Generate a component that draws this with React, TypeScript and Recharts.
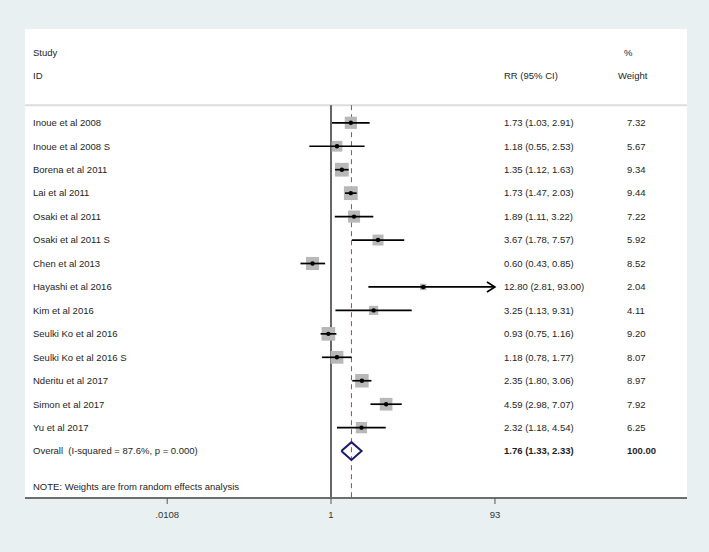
import {
  ComposedChart,
  Scatter,
  XAxis,
  YAxis,
  ReferenceLine,
  CartesianGrid,
} from 'recharts';

const studies = [
  'Inoue et al 2008',
  'Inoue et al 2008 S',
  'Borena et al 2011',
  'Lai et al 2011',
  'Osaki et al 2011',
  'Osaki et al 2011 S',
  'Chen et al 2013',
  'Hayashi et al 2016',
  'Kim et al 2016',
  'Seulki Ko et al 2016',
  'Seulki Ko et al 2016 S',
  'Nderitu et al 2017',
  'Simon et al 2017',
  'Yu et al 2017',
];
const rr = [1.73, 1.18, 1.35, 1.73, 1.89, 3.67, 0.6, 12.8, 3.25, 0.93, 1.18, 2.35, 4.59, 2.32];
const lower = [1.03, 0.55, 1.12, 1.47, 1.11, 1.78, 0.43, 2.81, 1.13, 0.75, 0.78, 1.8, 2.98, 1.18];
const upper = [2.91, 2.53, 1.63, 2.03, 3.22, 7.57, 0.85, 93.0, 9.31, 1.16, 1.77, 3.06, 7.07, 4.54];
const weights = [7.32, 5.67, 9.34, 9.44, 7.22, 5.92, 8.52, 2.04, 4.11, 9.2, 8.07, 8.97, 7.92, 6.25];

const overallLabel = 'Overall  (I-squared = 87.6%, p = 0.000)';
const overall = { rr: 1.76, lower: 1.33, upper: 2.33, weight: 100.0 };
const noteText = 'NOTE: Weights are from random effects analysis';

const xTicks = [0.0108, 1, 93];
const xTickLabels = ['.0108', '1', '93'];

// row positions (y axis is row index, top to bottom)
const HEADER_TOP = -3;
const HEADER_BOTTOM = -2;
const OVERALL_ROW = studies.length;
const NOTE_ROW = 15.5;

const FONT = '"Liberation Sans", Arial, sans-serif';
const COL_STUDY = 33;
const COL_RR = 504;
const COL_WEIGHT = 627;

const fmtCI = (e: number, l: number, h: number) =>
  `${e.toFixed(2)} (${l.toFixed(2)}, ${h.toFixed(2)})`;

const studyData = studies.map((name, i) => ({ name, x: rr[i], y: i, weight: weights[i] }));

// one two-point segment per study for its confidence interval
const ciData = studies.map((_, i) => [
  { x: lower[i], y: i },
  { x: upper[i], y: i },
]);

// CI reaching the axis end gets an arrow
const axisMax = xTicks[xTicks.length - 1];
const arrowData = studyData
  .filter((d) => upper[d.y] >= axisMax)
  .map((d) => ({ x: axisMax, y: d.y }));

const diamondData = [
  { x: overall.lower, y: OVERALL_ROW },
  { x: overall.rr, y: OVERALL_ROW - 0.38 },
  { x: overall.upper, y: OVERALL_ROW },
  { x: overall.rr, y: OVERALL_ROW + 0.38 },
  { x: overall.lower, y: OVERALL_ROW },
];

type RowText = { study?: string; rr?: string; weight?: string; bold?: boolean; header?: boolean };

const rowTexts: Record<string, RowText> = {};
rowTexts[String(HEADER_TOP)] = { study: 'Study', weight: '%', header: true };
rowTexts[String(HEADER_BOTTOM)] = { study: 'ID', rr: 'RR (95% CI)', weight: 'Weight', header: true };
studies.forEach((s, i) => {
  rowTexts[String(i)] = {
    study: s,
    rr: fmtCI(rr[i], lower[i], upper[i]),
    weight: weights[i].toFixed(2),
  };
});
rowTexts[String(OVERALL_ROW)] = {
  study: overallLabel,
  rr: fmtCI(overall.rr, overall.lower, overall.upper),
  weight: overall.weight.toFixed(2),
  bold: true,
};
rowTexts[String(NOTE_ROW)] = { study: noteText };

const yTicks = Object.keys(rowTexts).map(Number);

const RowTick = (props: any) => {
  const { y, payload } = props;
  const row = rowTexts[String(payload.value)];
  if (!row) return <g />;
  const common = { y, dy: '0.35em', fontSize: 9.5, fontFamily: FONT, fill: '#1e1e1e' };
  return (
    <g>
      {row.study && (
        <text {...common} x={COL_STUDY} style={{ whiteSpace: 'pre' }}>
          {row.study}
        </text>
      )}
      {row.rr && (
        <text {...common} x={COL_RR} fontWeight={row.bold ? 'bold' : 'normal'}>
          {row.rr}
        </text>
      )}
      {row.weight && (
        <text
          {...common}
          x={row.header ? (row.weight === '%' ? 624 : 618) : COL_WEIGHT}
          fontWeight={row.bold ? 'bold' : 'normal'}
        >
          {row.weight}
        </text>
      )}
    </g>
  );
};

const WeightBox = (props: any) => {
  const { cx, cy, payload } = props;
  const s = Math.sqrt(payload.weight) * 4.5;
  return <rect x={cx - s / 2} y={cy - s / 2} width={s} height={s} fill="#b8b8b8" />;
};

const Dot = (props: any) => <circle cx={props.cx} cy={props.cy} r={2.2} fill="#000" />;

const Arrow = (props: any) => (
  <path
    d={`M${props.cx - 8},${props.cy - 5} L${props.cx},${props.cy} L${props.cx - 8},${props.cy + 5}`}
    fill="none"
    stroke="#000"
    strokeWidth={1.6}
  />
);

const Empty = () => <g />;

export default function App() {
  return (
    <div
      style={{
        position: 'fixed',
        left: 0,
        top: 0,
        width: 709,
        height: 552,
        background: '#e8f0f2',
      }}
    >
      <ComposedChart
        width={709}
        height={552}
        margin={{ top: 29, right: 22, bottom: 24, left: 24 }}
      >
        <CartesianGrid horizontal={false} vertical={false} fill="#ffffff" />
        <XAxis
          dataKey="x"
          type="number"
          scale="log"
          domain={[0.000212, 18790]}
          allowDataOverflow
          ticks={xTicks}
          interval={0}
          height={30}
          tickFormatter={(v: number) => xTickLabels[xTicks.indexOf(v)] ?? String(v)}
          tick={{ fontSize: 9.5, fontFamily: FONT, fill: '#333' }}
          tickSize={6}
          tickMargin={7}
          axisLine={{ stroke: '#6e6e6e', strokeWidth: 2 }}
          tickLine={{ stroke: '#555' }}
        />
        <YAxis
          dataKey="y"
          type="number"
          domain={[-4, 16]}
          reversed
          allowDataOverflow
          ticks={yTicks}
          interval={0}
          width={1}
          axisLine={false}
          tickLine={false}
          tick={<RowTick />}
        />
        <ReferenceLine y={-0.75} stroke="#dddddd" strokeWidth={2} />
        <ReferenceLine
          segment={[
            { x: 1, y: -0.75 },
            { x: 1, y: 16 },
          ]}
          stroke="#000"
          strokeWidth={1.2}
        />
        <ReferenceLine
          segment={[
            { x: overall.rr, y: -0.75 },
            { x: overall.rr, y: 16 },
          ]}
          stroke="#c0394a"
          strokeWidth={1}
          strokeDasharray="5 4"
        />
        <Scatter data={studyData} shape={WeightBox} isAnimationActive={false} />
        {ciData.map((seg, i) => (
          <Scatter
            key={`ci-${i}`}
            data={seg}
            shape={Empty}
            line={{ stroke: '#000', strokeWidth: 1.7 }}
            lineType="joint"
            isAnimationActive={false}
          />
        ))}
        <Scatter data={studyData} shape={Dot} isAnimationActive={false} />
        <Scatter data={arrowData} shape={Arrow} isAnimationActive={false} />
        <Scatter
          data={diamondData}
          shape={Empty}
          line={{ stroke: '#1c1c6e', strokeWidth: 2 }}
          lineType="joint"
          isAnimationActive={false}
        />
      </ComposedChart>
    </div>
  );
}
